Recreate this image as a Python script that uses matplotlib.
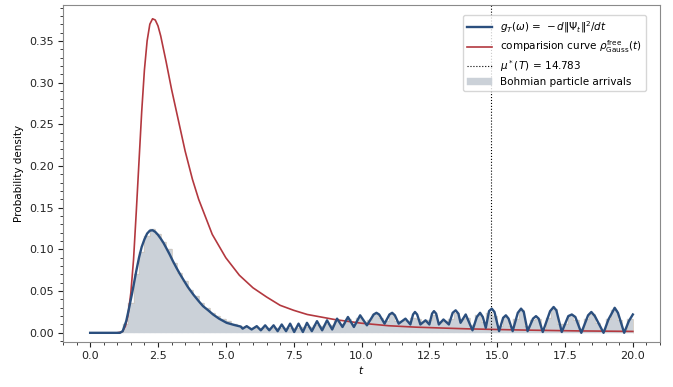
import numpy as np
import matplotlib
matplotlib.use("Agg")
import matplotlib.pyplot as plt
from matplotlib.ticker import MultipleLocator

# Arrival-time density g_T(omega) = -d||Psi_t||^2/dt
g_t = [0.00, 1.10, 1.20, 1.33, 1.45, 1.55, 1.70, 1.80, 1.90, 2.00, 2.10, 2.20,
       2.30, 2.40, 2.50, 2.60, 2.70, 2.80, 2.93, 3.05, 3.18, 3.30, 3.43, 3.60,
       3.80, 4.00, 4.16, 4.35, 4.53, 4.75, 5.03, 5.30, 5.55, 5.62, 5.77, 5.95,
       6.14, 6.29, 6.45, 6.60, 6.76, 6.91, 7.06, 7.22, 7.37, 7.52, 7.68, 7.84,
       7.99, 8.17, 8.36, 8.55, 8.73, 8.92, 9.10, 9.30, 9.50, 9.72, 9.95, 10.20,
       10.45, 10.55, 10.65, 10.85, 11.03, 11.13, 11.23, 11.37, 11.62, 11.80,
       11.90, 11.97, 12.05, 12.17, 12.36, 12.50, 12.60, 12.67, 12.75, 12.85,
       13.02, 13.22, 13.36, 13.47, 13.57, 13.65, 13.84, 14.09, 14.25, 14.37,
       14.47, 14.58, 14.70, 14.80, 14.90, 15.07, 15.22, 15.32, 15.42, 15.57,
       15.76, 15.88, 15.98, 16.12, 16.32, 16.43, 16.53, 16.68, 16.95, 17.08,
       17.18, 17.38, 17.62, 17.75, 17.88, 18.10, 18.35, 18.47, 18.60, 18.92,
       19.10, 19.20, 19.33, 19.45, 19.68, 19.85, 20.00]
g_val = [0.000, 0.000, 0.002, 0.014, 0.032, 0.048, 0.074, 0.090, 0.103, 0.112,
         0.119, 0.1225, 0.123, 0.121, 0.1175, 0.113, 0.108, 0.102, 0.094, 0.086,
         0.078, 0.071, 0.064, 0.055, 0.046, 0.038, 0.032, 0.027, 0.022, 0.017,
         0.012, 0.0095, 0.0075, 0.005, 0.008, 0.004, 0.008, 0.003, 0.009, 0.003,
         0.009, 0.002, 0.010, 0.002, 0.011, 0.001, 0.011, 0.001, 0.012, 0.002,
         0.014, 0.003, 0.015, 0.004, 0.017, 0.007, 0.019, 0.007, 0.021, 0.009,
         0.022, 0.024, 0.022, 0.011, 0.022, 0.024, 0.021, 0.011, 0.017, 0.010,
         0.022, 0.025, 0.022, 0.010, 0.015, 0.010, 0.023, 0.026, 0.023, 0.010,
         0.016, 0.010, 0.024, 0.027, 0.023, 0.012, 0.022, 0.003, 0.019, 0.024,
         0.019, 0.006, 0.026, 0.029, 0.025, 0.002, 0.018, 0.021, 0.017, 0.002,
         0.024, 0.029, 0.025, 0.002, 0.017, 0.020, 0.017, 0.001, 0.026, 0.031,
         0.027, 0.001, 0.020, 0.022, 0.019, 0.000, 0.021, 0.025, 0.020, 0.000,
         0.016, 0.022, 0.030, 0.024, 0.000, 0.014, 0.022]

# Free Gaussian comparison density
rho_t = [0.00, 1.00, 1.15, 1.20, 1.30, 1.40, 1.50, 1.60, 1.70, 1.80, 1.90, 2.00,
         2.10, 2.20, 2.30, 2.40, 2.50, 2.60, 2.80, 3.00, 3.25, 3.50, 3.77, 4.00,
         4.50, 5.00, 5.50, 6.00, 6.50, 7.00, 7.50, 8.00, 8.50, 9.00, 10.00,
         11.00, 12.00, 13.00, 14.00, 15.00, 16.00, 17.00, 18.00, 19.00, 20.00]
rho_val = [0.000, 0.000, 0.001, 0.002, 0.008, 0.022, 0.048, 0.088, 0.145, 0.205,
           0.265, 0.315, 0.350, 0.370, 0.3765, 0.375, 0.368, 0.356, 0.325, 0.292,
           0.255, 0.218, 0.184, 0.160, 0.118, 0.090, 0.069, 0.054, 0.043, 0.033,
           0.027, 0.022, 0.019, 0.016, 0.0115, 0.0085, 0.0068, 0.0057, 0.0047,
           0.0040, 0.0033, 0.0028, 0.0023, 0.0020, 0.0017]

# Histogram of Bohmian arrival times (bin width 0.2, from t = 1.0 to 20.0)
bin_edges = np.round(np.arange(1.0, 20.0001, 0.2), 2)
arrival_density = [
    0.001, 0.010, 0.036, 0.070, 0.097, 0.116, 0.125, 0.118, 0.109, 0.101,
    0.084, 0.072, 0.062, 0.051, 0.044, 0.036, 0.030, 0.024, 0.020, 0.016,
    0.014, 0.010, 0.008, 0.007, 0.006, 0.006, 0.006, 0.006, 0.006, 0.006,
    0.006, 0.006, 0.006, 0.006, 0.007, 0.007, 0.009, 0.008, 0.011, 0.009,
    0.014, 0.010, 0.016, 0.010, 0.018, 0.013, 0.015, 0.022, 0.018, 0.014,
    0.022, 0.014, 0.014, 0.014, 0.018, 0.016, 0.013, 0.015, 0.021, 0.013,
    0.014, 0.017, 0.024, 0.016, 0.018, 0.009, 0.021, 0.013, 0.024, 0.020,
    0.008, 0.019, 0.008, 0.017, 0.027, 0.008, 0.015, 0.016, 0.005, 0.018,
    0.028, 0.010, 0.011, 0.021, 0.015, 0.004, 0.017, 0.023, 0.012, 0.003,
    0.016, 0.027, 0.015, 0.003, 0.016]

mu_star = 14.783

plt.rcParams["font.family"] = "DejaVu Sans"
plt.rcParams["mathtext.fontset"] = "dejavusans"

fig = plt.figure(figsize=(6.73, 3.87), dpi=100)
ax = fig.add_axes([63 / 673, 45 / 387, 597 / 673, 337 / 387])

ax.bar(bin_edges[:-1], arrival_density, width=np.diff(bin_edges), align="edge",
       color="#cbd1d8", edgecolor="#cbd1d8", linewidth=0.3,
       label="Bohmian particle arrivals", zorder=1)
ax.stairs(arrival_density, bin_edges, color="#cdc5ba", linewidth=0.5, zorder=1.5)

ax.plot(g_t, g_val, color="#2b4f7e", linewidth=1.7,
        label=r"$g_T(\omega)\,=\,-d\|\Psi_t\|^2/dt$", zorder=3)
ax.plot(rho_t, rho_val, color="#b3383f", linewidth=1.2,
        label=r"comparision curve $\rho^{\mathrm{free}}_{\mathrm{Gauss}}(t)$", zorder=2)
ax.axvline(mu_star, color="black", linestyle=":", linewidth=0.8,
           label=rf"$\mu^*(T)\,=\,{mu_star}$", zorder=2)

ax.set_xlim(-1.0, 21.0)
ax.set_ylim(-0.011, 0.393)
ax.xaxis.set_major_locator(MultipleLocator(2.5))
ax.xaxis.set_minor_locator(MultipleLocator(0.5))
ax.yaxis.set_major_locator(MultipleLocator(0.05))
ax.yaxis.set_minor_locator(MultipleLocator(0.01))
ax.tick_params(axis="both", which="major", labelsize=8, length=3.5, width=0.8,
               colors="#222222", pad=3)
ax.tick_params(axis="both", which="minor", length=2, width=0.6, colors="#222222")
for side in ["left", "bottom", "top", "right"]:
    ax.spines[side].set_color("#8a8a8a")
    ax.spines[side].set_linewidth(0.8)

ax.set_xlabel(r"$t$", fontsize=7.5, labelpad=2)
ax.set_ylabel("Probability density", fontsize=7.5, labelpad=4)

ax.legend(loc="upper right", bbox_to_anchor=(0.985, 0.985), fontsize=7.5,
          framealpha=0.8, handlelength=2.4, borderpad=0.4, labelspacing=0.3)

fig.savefig("out.png", dpi=100)
